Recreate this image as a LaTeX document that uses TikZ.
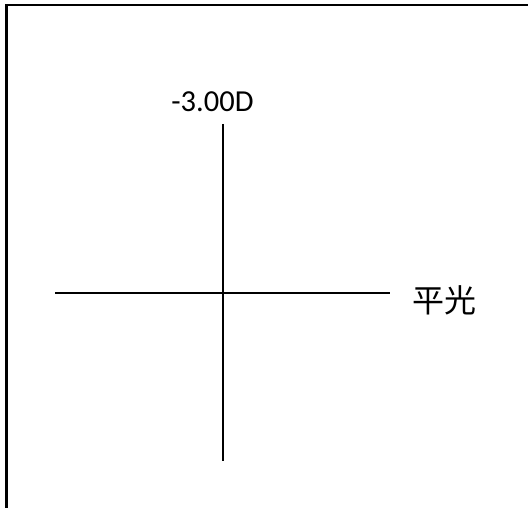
\documentclass[tikz,border=0pt]{standalone}
\usepackage{fontspec}
\setmainfont{Carlito}
\newfontfamily\cjk{Noto Sans CJK SC}
\begin{document}
\begin{tikzpicture}[x=1pt,y=-1pt,
  frame/.style={line width=2.6pt},
  axis/.style={line width=2pt},
  lbl/.style={inner sep=0pt}]
\useasboundingbox (0,0) rectangle (528,508);
\coordinate (fbl) at (6.7,508);
\coordinate (ftl) at (6.7,5);
\coordinate (ftr) at (528,5);
\draw[frame] (fbl) -- (ftl) -- (ftr);
\coordinate (vt) at (222.7,124);
\coordinate (vb) at (222.7,461);
\coordinate (hl) at (55,292.7);
\coordinate (hr) at (390,292.7);
\draw[axis] (vt) -- (vb);
\draw[axis] (hl) -- (hr);
\node[lbl,anchor=base,font=\fontsize{30.5}{33}\selectfont] (d) at (212.5,112) {-3.00D};
\node[lbl,anchor=west,font=\cjk\fontsize{32}{35}\selectfont] (p) at (412,300) {平光};
\end{tikzpicture}
\end{document}
